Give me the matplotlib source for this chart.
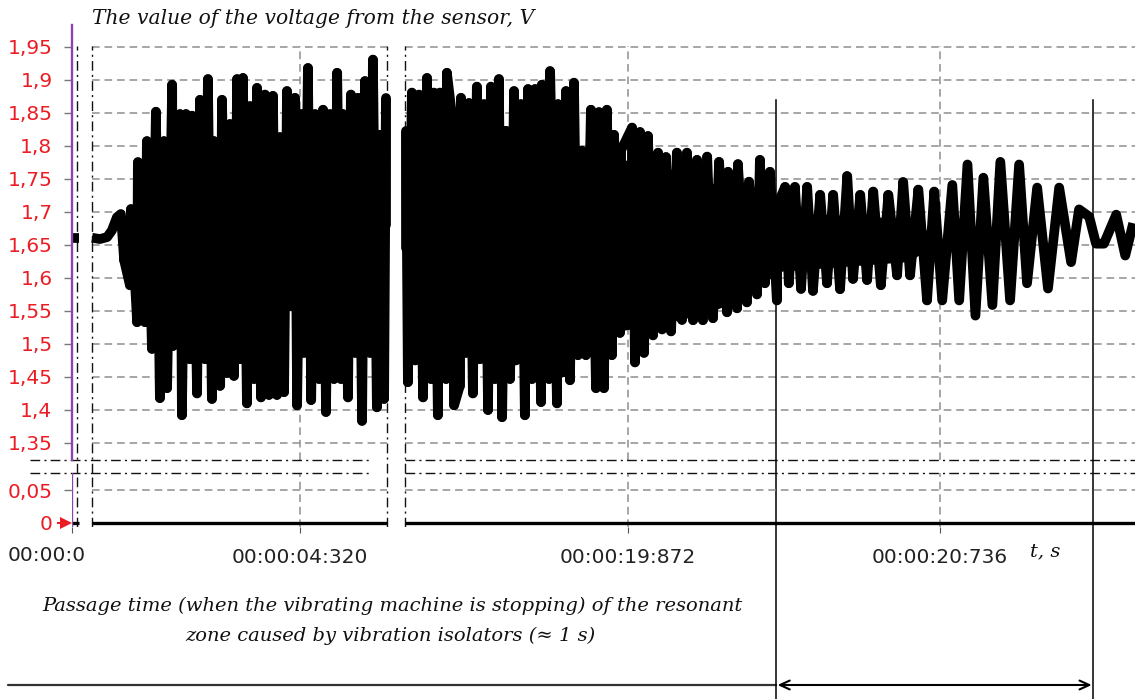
import numpy as np
import matplotlib
matplotlib.use("Agg")
import matplotlib.pyplot as plt
from matplotlib.transforms import blended_transform_factory

plt.rcParams['path.simplify'] = False

# ------------------------------------------------------------------ data
# time in seconds, voltage in V
seg1_t = [0.0, 0.018]
seg1_v = [1.660, 1.660]

seg2_lead_t = [3.744, 3.766, 3.786, 3.799, 3.813, 3.824]
seg2_lead_v = [1.661, 1.659, 1.662, 1.672, 1.692, 1.697]

seg2_top_t = [3.852, 3.871, 3.896, 3.921, 3.943, 3.966, 3.988, 4.004, 4.021, 4.043,
              4.065, 4.082, 4.104, 4.126, 4.146, 4.162, 4.182, 4.201, 4.223, 4.245,
              4.265, 4.284, 4.306, 4.323, 4.342, 4.362, 4.384, 4.403, 4.423, 4.439,
              4.461, 4.481, 4.500, 4.522, 4.542, 4.558]
seg2_top_v = [1.704, 1.775, 1.807, 1.852, 1.807, 1.893, 1.848, 1.848, 1.846, 1.870,
              1.901, 1.807, 1.870, 1.833, 1.901, 1.903, 1.860, 1.888, 1.878, 1.876,
              1.813, 1.883, 1.873, 1.848, 1.918, 1.848, 1.855, 1.848, 1.911, 1.848,
              1.878, 1.873, 1.898, 1.931, 1.817, 1.873]

seg2_bot_t = [3.833, 3.849, 3.869, 3.891, 3.910, 3.932, 3.952, 3.968, 3.993, 4.015,
              4.035, 4.057, 4.076, 4.099, 4.118, 4.137, 4.154, 4.173, 4.193, 4.212,
              4.234, 4.256, 4.276, 4.295, 4.312, 4.331, 4.351, 4.373, 4.392, 4.414,
              4.434, 4.453, 4.473, 4.492, 4.514, 4.533, 4.553]
seg2_bot_v = [1.627, 1.589, 1.533, 1.533, 1.493, 1.418, 1.433, 1.497, 1.392, 1.477,
              1.425, 1.477, 1.417, 1.437, 1.456, 1.452, 1.477, 1.410, 1.447, 1.419,
              1.423, 1.423, 1.427, 1.557, 1.407, 1.487, 1.415, 1.447, 1.397, 1.447,
              1.447, 1.419, 1.487, 1.384, 1.487, 1.404, 1.417]

# inner (always-covered) band of the fast oscillation
seg2_core_t = [3.833, 3.852, 3.871, 3.896, 3.921, 4.560]
seg2_core_hi = [1.680, 1.695, 1.760, 1.795, 1.800, 1.805]
seg2_core_lo = [1.640, 1.600, 1.545, 1.540, 1.555, 1.555]

seg3_top_t = [19.257, 19.273, 19.293, 19.315, 19.334, 19.351, 19.370, 19.387, 19.409, 19.431,
              19.453, 19.473, 19.492, 19.514, 19.534, 19.556, 19.575, 19.595, 19.614, 19.633,
              19.656, 19.678, 19.700, 19.722, 19.744, 19.769, 19.791, 19.813, 19.833, 19.852,
              19.883, 19.905, 19.927, 19.955, 19.977, 20.007, 20.035, 20.063, 20.091, 20.124,
              20.149, 20.176, 20.207, 20.237, 20.265, 20.287, 20.307, 20.334, 20.368, 20.404,
              20.440, 20.479, 20.515, 20.551, 20.593, 20.634, 20.676, 20.720, 20.770, 20.812,
              20.856, 20.903, 20.955, 21.005, 21.066, 21.121, 21.149, 21.224, 21.271]
seg3_top_v = [1.822, 1.881, 1.878, 1.903, 1.881, 1.881, 1.911, 1.833, 1.873, 1.865,
              1.890, 1.863, 1.890, 1.901, 1.823, 1.883, 1.863, 1.886, 1.886, 1.893,
              1.913, 1.863, 1.883, 1.896, 1.793, 1.855, 1.851, 1.855, 1.817, 1.793,
              1.828, 1.821, 1.815, 1.790, 1.783, 1.790, 1.790, 1.779, 1.784, 1.776,
              1.761, 1.772, 1.746, 1.779, 1.761, 1.713, 1.738, 1.738, 1.738, 1.726,
              1.726, 1.754, 1.726, 1.731, 1.726, 1.745, 1.734, 1.731, 1.741, 1.772,
              1.752, 1.776, 1.772, 1.737, 1.737, 1.704, 1.693, 1.696, 1.683]

seg3_bot_t = [19.262, 19.282, 19.304, 19.326, 19.345, 19.368, 19.390, 19.406, 19.423, 19.442,
              19.462, 19.484, 19.503, 19.523, 19.545, 19.561, 19.586, 19.606, 19.631, 19.653,
              19.675, 19.692, 19.711, 19.733, 19.755, 19.783, 19.805, 19.827, 19.849, 19.891,
              19.916, 19.941, 19.966, 19.991, 20.021, 20.052, 20.079, 20.107, 20.146, 20.174,
              20.201, 20.229, 20.251, 20.284, 20.317, 20.351, 20.384, 20.423, 20.459, 20.495,
              20.534, 20.572, 20.617, 20.653, 20.700, 20.742, 20.789, 20.834, 20.881, 20.930,
              20.977, 21.035, 21.099, 21.168, 21.190, 21.249]
seg3_bot_v = [1.442, 1.475, 1.419, 1.447, 1.392, 1.447, 1.407, 1.437, 1.487, 1.425,
              1.477, 1.400, 1.447, 1.389, 1.447, 1.475, 1.392, 1.447, 1.412, 1.447,
              1.410, 1.457, 1.445, 1.483, 1.483, 1.433, 1.433, 1.483, 1.517, 1.472,
              1.487, 1.513, 1.522, 1.519, 1.537, 1.536, 1.536, 1.539, 1.548, 1.554,
              1.563, 1.575, 1.592, 1.566, 1.592, 1.584, 1.581, 1.592, 1.583, 1.599,
              1.597, 1.589, 1.604, 1.604, 1.566, 1.566, 1.566, 1.543, 1.559, 1.566,
              1.592, 1.584, 1.624, 1.652, 1.652, 1.634]

seg3_core_t = [19.254, 19.740, 19.850, 19.960, 20.080, 20.200, 20.290, 20.650, 20.720]
seg3_core_hi = [1.800, 1.790, 1.780, 1.770, 1.750, 1.720, 1.700, 1.690, 1.665]
seg3_core_lo = [1.490, 1.490, 1.520, 1.530, 1.545, 1.570, 1.610, 1.625, 1.650]

# second channel (zero level), recorded over the same three windows
zero_t = [0.0, 0.018, np.nan, 3.744, 4.561, np.nan, 19.254, 21.276]
zero_v = [0.0, 0.0, np.nan, 0.0, 0.0, np.nan, 0.0, 0.0]

# recording windows shown on the broken time axis
windows = [(0.0, 0.018), (3.744, 4.561), (19.254, 21.276)]

ytick_hi = [1.35, 1.40, 1.45, 1.50, 1.55, 1.60, 1.65, 1.70, 1.75, 1.80, 1.85, 1.90, 1.95]
ytick_hi_labels = ['1,35', '1,4', '1,45', '1,5', '1,55', '1,6', '1,65', '1,7', '1,75',
                   '1,8', '1,85', '1,9', '1,95']
ytick_lo = [0.0, 0.05]
ytick_lo_labels = ['0', '0,05']

xticks = [0.0, 4.320, 19.872, 20.736]
xtick_labels = ['00:00:0', '00:00:04:320', '00:00:19:872', '00:00:20:736']

cursor_t = 0.0
resonance_t = [20.282, 21.160]

# ------------------------------------------------------------------ broken time scale
T_KN = np.array([-10.0, 0.0, 0.018, 3.744, 4.561, 19.254, 21.276, 40.0])
U_KN = np.array([72.5 - 3610.0, 72.5, 79.0, 92.0, 387.0, 405.0, 1135.0, 1135.0 + 18.724 * 361])


def fwd(t):
    return np.interp(t, T_KN, U_KN)


def inv(u):
    return np.interp(u, U_KN, T_KN)


def trace(tt, tv, bt, bv, lt=(), lv=()):
    t = np.concatenate([np.asarray(lt, float), np.asarray(tt, float), np.asarray(bt, float)])
    v = np.concatenate([np.asarray(lv, float), np.asarray(tv, float), np.asarray(bv, float)])
    o = np.argsort(t, kind='stable')
    return t[o], v[o]


W, H = 1135, 699
fig = plt.figure(figsize=(W / 100, H / 100), dpi=100)


def fx(px):
    return px / W


def fy(py):
    return 1 - py / H


ax1 = fig.add_axes([fx(72), fy(460), fx(1135) - fx(72), fy(46) - fy(460)])
ax2 = fig.add_axes([fx(72), fy(527), fx(1135) - fx(72), fy(473) - fy(527)])
for ax in (ax1, ax2):
    ax.set_xscale('function', functions=(fwd, inv))
    ax.set_xlim(inv(72.0), inv(1135.0))
    for s in ax.spines.values():
        s.set_visible(False)
    ax.patch.set_visible(False)
ax1.set_ylim(1.95 - 413 / 660, 1.95 + 1 / 660)
ax2.set_ylim(-4 / 660, 0.05 + 17 / 660)

RED = '#ec1c24'
PURPLE = '#8c45ad'
grid_kw = dict(color='#8e8e8e', lw=1.1, linestyle=(0, (5, 3.2)), zorder=0.5)
brk_kw = dict(color='#111111', lw=1.0, linestyle=(0, (7, 3, 1.5, 3)), zorder=1)

# grid per recording window
for lo, hi in windows[1:]:
    ax1.hlines(ytick_hi, lo, hi, **grid_kw)
    ax2.hlines([0.05], lo, hi, **grid_kw)
for xt in xticks[1:]:
    ax1.axvline(xt, **grid_kw)
    ax2.axvline(xt, **grid_kw)

# signal: inner band + turning points (bars into the band) + thick trace
LW = 7.0
for ct, chi, clo, tt, tv, bt, bv in [
        (seg2_core_t, seg2_core_hi, seg2_core_lo, seg2_top_t, seg2_top_v, seg2_bot_t, seg2_bot_v),
        (seg3_core_t, seg3_core_hi, seg3_core_lo, seg3_top_t, seg3_top_v, seg3_bot_t, seg3_bot_v)]:
    ax1.fill_between(ct, clo, chi, color='black', lw=0, zorder=2)
    ct = np.asarray(ct)
    mid = (np.asarray(chi) + np.asarray(clo)) / 2
    tt = np.asarray(tt); tv = np.asarray(tv); bt = np.asarray(bt); bv = np.asarray(bv)
    mt = (tt >= ct[0]) & (tt <= ct[-1])
    mb = (bt >= ct[0]) & (bt <= ct[-1])
    ax1.vlines(tt[mt], np.interp(tt[mt], ct, mid), tv[mt], colors='black', lw=LW,
               capstyle='round', zorder=3)
    ax1.vlines(bt[mb], bv[mb], np.interp(bt[mb], ct, mid), colors='black', lw=LW,
               capstyle='round', zorder=3)

sig_kw = dict(color='black', lw=LW, solid_joinstyle='round', solid_capstyle='butt', zorder=3)
ax1.plot(seg1_t, seg1_v, **sig_kw)
t2, v2 = trace(seg2_top_t, seg2_top_v, seg2_bot_t, seg2_bot_v, seg2_lead_t, seg2_lead_v)
ax1.plot(t2, v2, **sig_kw)
t3, v3 = trace(seg3_top_t, seg3_top_v, seg3_bot_t, seg3_bot_v)
ax1.plot(t3, v3, **sig_kw)
ax2.plot(zero_t, zero_v, color='black', lw=2.4, solid_capstyle='butt', zorder=3)

# axis-break markers
for xb in [0.012, windows[1][0], windows[1][1], windows[2][0]]:
    ax1.axvline(xb, ymin=-13 / 414, ymax=1.0, clip_on=False, **brk_kw)
    ax2.axvline(xb, ymin=0, ymax=1.0, **brk_kw)
bt1 = blended_transform_factory(ax1.transData, ax1.transAxes)
bt2 = blended_transform_factory(ax2.transData, ax2.transAxes)
for lo, hi in [(inv(30.0), 4.52), (windows[2][0], windows[2][1])]:
    ax1.plot([lo, hi], [0, 0], transform=bt1, clip_on=False, **brk_kw)
    ax2.plot([lo, hi], [1, 1], transform=bt2, clip_on=False, **brk_kw)

# cursor
ax1.axvline(cursor_t, ymin=0, ymax=(460 - 25) / 414, color=PURPLE, lw=1.7, clip_on=False, zorder=4)
ax2.axvline(cursor_t, ymin=0, ymax=1, color=PURPLE, lw=1.7, zorder=4)

# resonance zone markers
for tr in resonance_t:
    ax1.axvline(tr, ymin=(460 - 699) / 414, ymax=(460 - 100) / 414, color='black', lw=1.1,
                clip_on=False, zorder=5)
yf = fy(685)
ax1.annotate('', xy=(resonance_t[0], yf), xycoords=('data', 'figure fraction'),
             xytext=(fx(8), yf), textcoords='figure fraction', annotation_clip=False,
             arrowprops=dict(arrowstyle='-', color='#333333', lw=1.6, shrinkA=0, shrinkB=0))
ax1.annotate('', xy=(resonance_t[1], yf), xycoords=('data', 'figure fraction'),
             xytext=(resonance_t[0], yf), textcoords=('data', 'figure fraction'),
             annotation_clip=False,
             arrowprops=dict(arrowstyle='<->,head_length=0.7,head_width=0.32', color='black',
                             lw=1.5, shrinkA=1, shrinkB=1))

# ticks
ax1.set_yticks(ytick_hi, ytick_hi_labels)
ax2.set_yticks(ytick_lo, ytick_lo_labels)
for ax in (ax1, ax2):
    ax.tick_params(axis='y', colors='#777777', labelcolor=RED, labelsize=14.5, length=6,
                   width=1, pad=8)
    ax.xaxis.set_minor_locator(matplotlib.ticker.NullLocator())
    ax.yaxis.set_minor_locator(matplotlib.ticker.NullLocator())
ax2.yaxis.get_major_ticks()[0].tick1line.set_visible(False)
ax1.tick_params(axis='x', bottom=False, labelbottom=False)
ax2.set_xticks(xticks, [''] + xtick_labels[1:])
ax2.tick_params(axis='x', colors='#555555', labelcolor='#222222', labelsize=14.5, length=4,
                pad=11)
ax2.annotate(xtick_labels[0], xy=(xticks[0], 0), xycoords=('data', 'axes fraction'),
             xytext=(-18.5, -11 - 4 * 0.72), textcoords='offset points', ha='center', va='top',
             fontsize=14.5, color='#222222', annotation_clip=False)

# zero-channel marker
bm = blended_transform_factory(ax2.transAxes, ax2.transData)
ax2.plot([-0.0135, -0.008], [0, 0], color=RED, lw=1.5, transform=bm, clip_on=False)
ax2.plot([-0.0055], [0], marker='>', ms=8, color=RED, transform=bm, clip_on=False,
         markeredgewidth=0)

# texts
serif = dict(family=['DejaVu Serif', 'DejaVu Sans'], style='italic', color='#111111')
fig.text(fx(92), fy(18), 'The value of the voltage from the sensor, V', ha='left', va='center',
         fontsize=14.6, **serif)
fig.text(fx(1030), fy(551), 't, s', ha='left', va='center', fontsize=14, **serif)
fig.text(fx(392), fy(606), 'Passage time (when the vibrating machine is stopping) of the resonant',
         ha='center', va='center', fontsize=14, **serif)
fig.text(fx(390), fy(636), 'zone caused by vibration isolators (\u2248 1 s)',
         ha='center', va='center', fontsize=14, **serif)

fig.savefig('out.png', dpi=100)
